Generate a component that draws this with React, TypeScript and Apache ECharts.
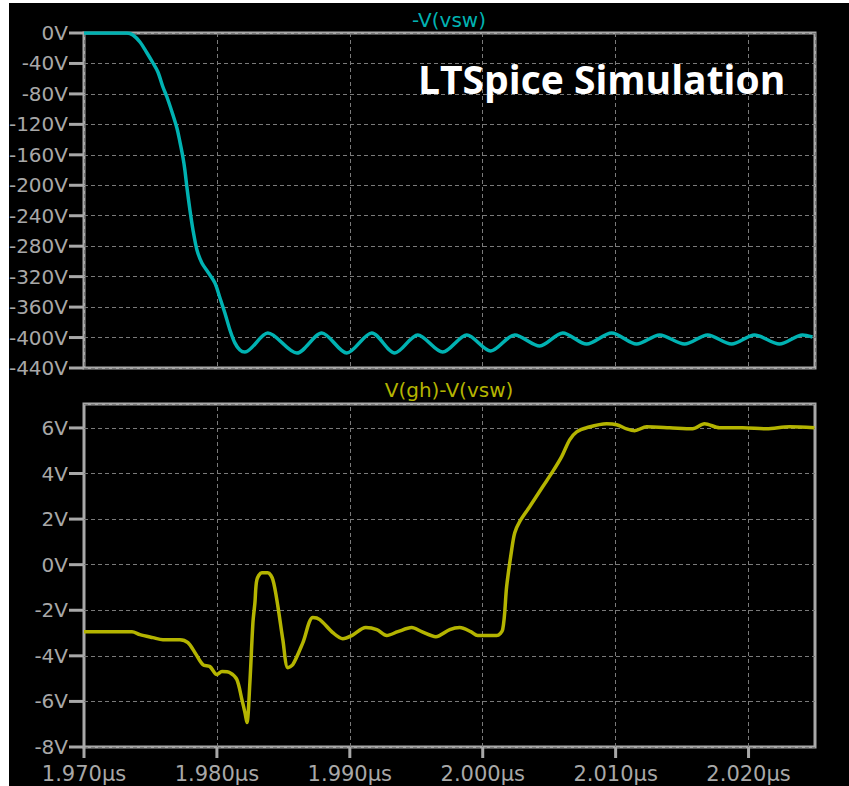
import React, { useEffect, useRef } from "react";
import * as echarts from "echarts";

// time in ns (axis shows µs)
const topTime = [
  1970.0, 1973.23, 1973.68, 1974.21, 1974.74, 1975.19, 1975.56, 1975.94, 1976.24, 1976.62,
  1976.99, 1977.22, 1977.44, 1977.59, 1977.74, 1977.97, 1978.2, 1978.5, 1978.87, 1979.32,
  1979.85, 1980.23, 1980.6, 1980.98, 1981.35, 1981.73, 1982.11, 1983.83, 1986.02, 1987.89,
  1989.77, 1991.65, 1993.38, 1995.11, 1996.99, 1998.8, 2000.6, 2002.41, 2004.29, 2006.02,
  2007.82, 2009.7, 2011.58, 2013.31, 2015.19, 2016.92, 2018.72, 2020.45, 2022.33, 2024.06,
  2024.81,
];
const topVsw = [
  0, 0, -2.6, -11.8, -26.3, -39.4, -51.2, -70.9, -84.1, -103.8,
  -124.8, -143.2, -162.9, -179.9, -202.3, -232.5, -258.7, -285, -302, -313.9,
  -328.3, -348, -367.7, -390, -407, -416.3, -419, -394, -420.3, -394,
  -420.3, -394, -420.3, -396.6, -419, -396.6, -417.6, -396.6, -411, -394,
  -408.5, -394, -408.5, -396.6, -408.5, -396.6, -408.5, -396.6, -408.5, -396.6,
  -399.3,
];

const botTime = [
  1970.0, 1973.61, 1974.21, 1975.19, 1975.94, 1977.22, 1977.82, 1978.35, 1978.95, 1979.47,
  1980.0, 1980.38, 1980.98, 1981.5, 1981.88, 1982.11, 1982.26, 1982.48, 1982.71, 1982.86,
  1983.01, 1983.38, 1983.83, 1984.21, 1984.59, 1984.96, 1985.34, 1985.71, 1986.47, 1987.22,
  1987.74, 1988.72, 1989.47, 1990.15, 1991.2, 1992.03, 1992.78, 1993.61, 1994.66, 1995.41,
  1996.47, 1997.52, 1998.27, 1999.1, 1999.62, 2001.05, 2001.5, 2001.8, 2002.18, 2002.41,
  2002.78, 2003.53, 2004.51, 2005.26, 2005.94, 2006.54, 2007.07, 2007.82, 2009.32, 2010.08,
  2010.83, 2011.43, 2012.33, 2014.06, 2015.79, 2016.69, 2017.82, 2019.55, 2021.35, 2023.08,
  2024.96,
];
const botVgs = [
  -2.94, -2.94, -3.07, -3.2, -3.29, -3.29, -3.42, -3.86, -4.39, -4.47,
  -4.82, -4.69, -4.74, -5.04, -5.92, -6.49, -6.93, -5.18, -2.54, -1.67,
  -0.66, -0.35, -0.35, -0.66, -1.84, -3.29, -4.52, -4.39, -3.42, -2.32,
  -2.41, -2.98, -3.25, -3.11, -2.76, -2.85, -3.11, -2.94, -2.76, -2.94,
  -3.16, -2.85, -2.76, -2.94, -3.11, -3.11, -2.85, -0.96, 0.66, 1.4,
  1.89, 2.54, 3.42, 4.08, 4.74, 5.48, 5.83, 6.01, 6.18, 6.14,
  5.96, 5.88, 6.05, 6.01, 5.96, 6.18, 6.01, 6.01, 5.96, 6.05,
  6.01,
];

const timeTicks = [1970, 1980, 1990, 2000, 2010, 2020];
const topVoltTicks = [0, -40, -80, -120, -160, -200, -240, -280, -320, -360, -400, -440];
const botVoltTicks = [-8, -6, -4, -2, 0, 2, 4, 6];

const topTitle = "-V(vsw)";
const botTitle = "V(gh)-V(vsw)";
const banner = "LTSpice Simulation";

const GRAY = "#a8a8a8";
const GRID = "#7a7a7a";
const CYAN = "#00b2b2";
const YELLOW = "#b4b400";
const FONT = "DejaVu Sans";

function dashed() {
  return { show: true, lineStyle: { color: GRID, width: 1, type: [4, 3] } };
}

// custom series drawing tick marks at data positions
function yTickSeries(xIdx: number, yIdx: number, values: number[]) {
  return {
    type: "custom",
    xAxisIndex: xIdx,
    yAxisIndex: yIdx,
    clip: false,
    silent: true,
    z: 10,
    data: values.map((v) => [1970, v]),
    renderItem: (params: any, api: any) => {
      const p = api.coord([api.value(0), api.value(1)]);
      return { type: "rect", shape: { x: p[0] - 15, y: p[1] - 1.5, width: 15, height: 3 }, style: { fill: GRAY } };
    },
  };
}
function xTickSeries(xIdx: number, yIdx: number, values: number[], base: number) {
  return {
    type: "custom",
    xAxisIndex: xIdx,
    yAxisIndex: yIdx,
    clip: false,
    silent: true,
    z: 10,
    data: values.map((t) => [t, base]),
    renderItem: (params: any, api: any) => {
      const p = api.coord([api.value(0), api.value(1)]);
      return { type: "rect", shape: { x: p[0] - 1.5, y: p[1], width: 3, height: 11 }, style: { fill: GRAY } };
    },
  };
}

export default function App() {
  const ref = useRef<HTMLDivElement>(null);
  useEffect(() => {
    if (!ref.current) return;
    const chart = echarts.init(ref.current, undefined, { renderer: "svg" });
    const yCommonLabel = {
      color: GRAY,
      fontFamily: FONT,
      fontSize: 20,
      margin: 16,
    };
    const timeRange = { type: "value", min: 1970, max: 2025, interval: 10, position: "bottom" };
    chart.setOption({
      animation: false,
      backgroundColor: "#000",
      grid: [
        { left: 84, top: 33, right: 34, height: 335, show: true, borderColor: GRAY, borderWidth: 3, backgroundColor: "transparent" },
        { left: 84, top: 404, right: 34, bottom: 39, show: true, borderColor: GRAY, borderWidth: 3, backgroundColor: "transparent" },
      ],
      xAxis: [
        {
          ...timeRange,
          gridIndex: 0,
          axisLine: { show: false, onZero: false },
          axisTick: { show: false },
          axisLabel: { show: false },
          splitLine: dashed(),
        },
        {
          ...timeRange,
          gridIndex: 1,
          axisLine: { show: false, onZero: false },
          axisTick: { show: false },
          axisLabel: {
            color: GRAY,
            fontFamily: FONT,
            fontSize: 21,
            margin: 16,
            formatter: (v: number) => (v / 1000).toFixed(3) + "µs",
          },
          splitLine: { show: false },
        },
      ],
      yAxis: [
        {
          type: "value",
          gridIndex: 0,
          min: -440,
          max: 0,
          interval: 40,
          axisLine: { show: false, onZero: false },
          axisTick: { show: false },
          axisLabel: { ...yCommonLabel, formatter: (v: number) => v + "V" },
          splitLine: dashed(),
        },
        {
          type: "value",
          gridIndex: 1,
          min: -8,
          max: 7.05,
          interval: 2,
          axisLine: { show: false, onZero: false },
          axisTick: { show: false },
          axisLabel: {
            ...yCommonLabel,
            showMaxLabel: false,
            formatter: (v: number) => (Math.abs(v - Math.round(v)) < 1e-9 && Math.round(v) % 2 === 0 ? v + "V" : ""),
          },
          splitLine: dashed(),
        },
      ],
      graphic: [
        { type: "rect", shape: { x: 0, y: 0, width: 9, height: 786 }, style: { fill: "#fff" } },
        { type: "rect", shape: { x: 0, y: 0, width: 849, height: 3 }, style: { fill: "#fff" } },
        {
          type: "text",
          x: 449,
          y: 20,
          style: { text: topTitle, fill: CYAN, font: `20px "${FONT}"`, align: "center", verticalAlign: "middle" },
        },
        {
          type: "text",
          x: 449,
          y: 390,
          style: { text: botTitle, fill: YELLOW, font: `20px "${FONT}"`, align: "center", verticalAlign: "middle" },
        },
        {
          type: "text",
          x: 418,
          y: 78,
          z: 100,
          style: { text: banner, fill: "#fff", font: `bold 39px "Open Sans"`, align: "left", verticalAlign: "middle" },
        },
      ],
      series: [
        {
          type: "line",
          xAxisIndex: 0,
          yAxisIndex: 0,
          data: topTime.map((t, i) => [t, topVsw[i]]),
          showSymbol: false,
          smooth: 0.3,
          lineStyle: { color: CYAN, width: 3.5 },
        },
        {
          type: "line",
          xAxisIndex: 1,
          yAxisIndex: 1,
          data: botTime.map((t, i) => [t, botVgs[i]]),
          showSymbol: false,
          smooth: 0.3,
          lineStyle: { color: YELLOW, width: 3.5 },
          z: 3,
          markLine: {
            silent: true,
            symbol: "none",
            label: { show: false },
            lineStyle: { color: GRID, width: 1, type: [4, 3] },
            data: timeTicks.slice(1).map((t) => ({ xAxis: t })),
            z: 1,
          },
        },
        yTickSeries(0, 0, topVoltTicks),
        yTickSeries(1, 1, botVoltTicks),
        xTickSeries(1, 1, timeTicks, -8),
      ],
    });

    return () => chart.dispose();
  }, []);
  return (
    <div
      ref={ref}
      style={{ position: "fixed", left: 0, top: 0, width: 849, height: 786 }}
    />
  );
}
